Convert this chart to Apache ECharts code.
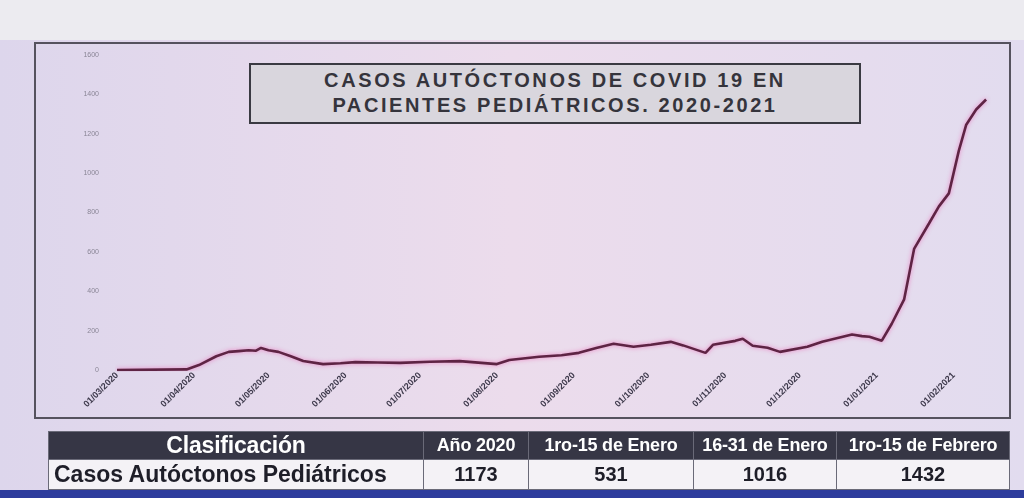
<!DOCTYPE html>
<html>
<head>
<meta charset="utf-8">
<script src="https://cdn.jsdelivr.net/npm/echarts@6/dist/echarts.min.js"></script>
<style>
html,body{margin:0;padding:0;width:1024px;height:498px;overflow:hidden;background:#e9e4ef;font-family:"Liberation Sans",Arial,sans-serif;}
#chart{position:absolute;left:0;top:0;width:1024px;height:498px;}
#title{position:absolute;left:249px;top:63px;width:612px;height:61px;box-sizing:border-box;border:2.5px solid #3a3a42;background:#d9d6dd;color:#35343c;font-weight:bold;font-size:20px;line-height:25px;letter-spacing:2.6px;text-align:center;padding-top:3px;}
#tbl{position:absolute;left:48px;top:431px;width:962px;border-collapse:collapse;font-weight:bold;}
#tbl td,#tbl th{border:1.5px solid #6a6a78;padding:0;text-align:center;white-space:nowrap;}
#tbl th{background:#363645;color:#fff;height:26px;font-size:18px;letter-spacing:-0.2px;}
#tbl th.c0{font-size:23px;}
#tbl td{background:#f4f2f6;color:#1e1e28;height:29px;font-size:20px;}
#tbl td.c0{text-align:left;padding-left:5px;font-size:23px;}
#band{position:absolute;left:0;top:490px;width:1024px;height:8px;background:#2d3c9c;}
</style>
</head>
<body>
<div id="chart"></div>
<div id="title"></div>
<table id="tbl">
<tr><th class="c0" style="width:374px">Clasificación</th><th style="width:104px">Año 2020</th><th style="width:164px">1ro-15 de Enero</th><th style="width:142px">16-31 de Enero</th><th>1ro-15 de Febrero</th></tr>
<tr><td class="c0">Casos Autóctonos Pediátricos</td><td>1173</td><td>531</td><td>1016</td><td>1432</td></tr>
</table>
<div id="band"></div>
<script>
// Data (sparse dates with values)
const pointDates = ['2020-03-01','2020-03-29','2020-04-03','2020-04-10','2020-04-15','2020-04-19','2020-04-23','2020-04-26','2020-04-28','2020-05-01','2020-05-05','2020-05-10','2020-05-15','2020-05-23','2020-05-30','2020-06-05','2020-06-14','2020-06-23','2020-07-05','2020-07-17','2020-08-01','2020-08-06','2020-08-18','2020-08-27','2020-09-03','2020-09-10','2020-09-17','2020-09-25','2020-10-02','2020-10-10','2020-10-15','2020-10-24','2020-10-27','2020-11-05','2020-11-08','2020-11-12','2020-11-18','2020-11-23','2020-12-04','2020-12-10','2020-12-22','2020-12-26','2020-12-29','2021-01-03','2021-01-07','2021-01-12','2021-01-16','2021-01-22','2021-01-26','2021-01-30','2021-02-03','2021-02-06','2021-02-10','2021-02-14'];
const pointValues = [0,3,25,70,92,96,100,98,112,100,92,70,46,30,34,40,38,36,42,45,30,51,67,75,87,112,133,118,128,143,125,87,128,148,159,123,113,92,118,143,180,172,169,149,235,359,615,744,831,897,1113,1246,1323,1374];
const yTicks = [0,200,400,600,800,1000,1200,1400,1600];
const axisStart = '2020-03-01';
const axisEnd = '2021-02-20';
const titleLines = ['CASOS AUTÓCTONOS DE COVID 19 EN','PACIENTES PEDIÁTRICOS. 2020-2021'];

document.getElementById('title').innerHTML = titleLines.join('<br>');

// build daily category axis
function fmt(d){const p=n=>String(n).padStart(2,'0');return d.getUTCFullYear()+'-'+p(d.getUTCMonth()+1)+'-'+p(d.getUTCDate());}
const cats=[];
for(let d=new Date(axisStart+'T00:00:00Z');d<=new Date(axisEnd+'T00:00:00Z');d=new Date(d.getTime()+86400000)){cats.push(fmt(d));}
const seriesData = pointDates.map((d,i)=>[cats.indexOf(d), pointValues[i]]);
const isMonthStart=(i,v)=>v.slice(8)==='01';
const lab=v=>{const [y,m,d]=v.split('-');return d+'/'+m+'/'+y;};

const chart=echarts.init(document.getElementById('chart'),null,{renderer:'canvas'});
chart.setOption({
  backgroundColor:'transparent',
  animation:false,
  grid:{left:117,right:23,top:55,bottom:128,containLabel:false},
  xAxis:{type:'category',data:cats,boundaryGap:false,
    axisLine:{show:false},axisTick:{show:false},
    axisLabel:{interval:isMonthStart,rotate:45,formatter:lab,fontSize:9,fontWeight:'bold',color:'#3e3a4c',margin:4,fontFamily:'Liberation Sans'}},
  yAxis:{type:'value',min:0,max:1600,interval:200,
    axisLine:{show:false},axisTick:{show:false},splitLine:{show:false},
    axisLabel:{fontSize:7,color:'#8a8696',margin:18,formatter:v=>yTicks.includes(v)?String(v):''}},
  series:[{type:'line',data:seriesData,showSymbol:false,connectNulls:true,
    lineStyle:{color:'#5e2444',width:2.6,shadowColor:'rgba(235,90,175,0.7)',shadowBlur:4},z:5}],
  graphic:[
    {type:'rect',shape:{x:0,y:0,width:1024,height:498},style:{fill:{type:'linear',x:0,y:0,x2:1,y2:0,colorStops:[{offset:0,color:'#ddd6ec'},{offset:0.5,color:'#ecdcec'},{offset:1,color:'#e2dcef'}]}},z:-10,silent:true},
    {type:'rect',shape:{x:0,y:0,width:1024,height:40},style:{fill:'#ecebf0'},z:-9,silent:true},
    {type:'rect',shape:{x:35,y:43,width:975,height:375},style:{fill:'none',stroke:'#55525e',lineWidth:2},z:-5,silent:true}
  ]
});
</script>
</body>
</html>
